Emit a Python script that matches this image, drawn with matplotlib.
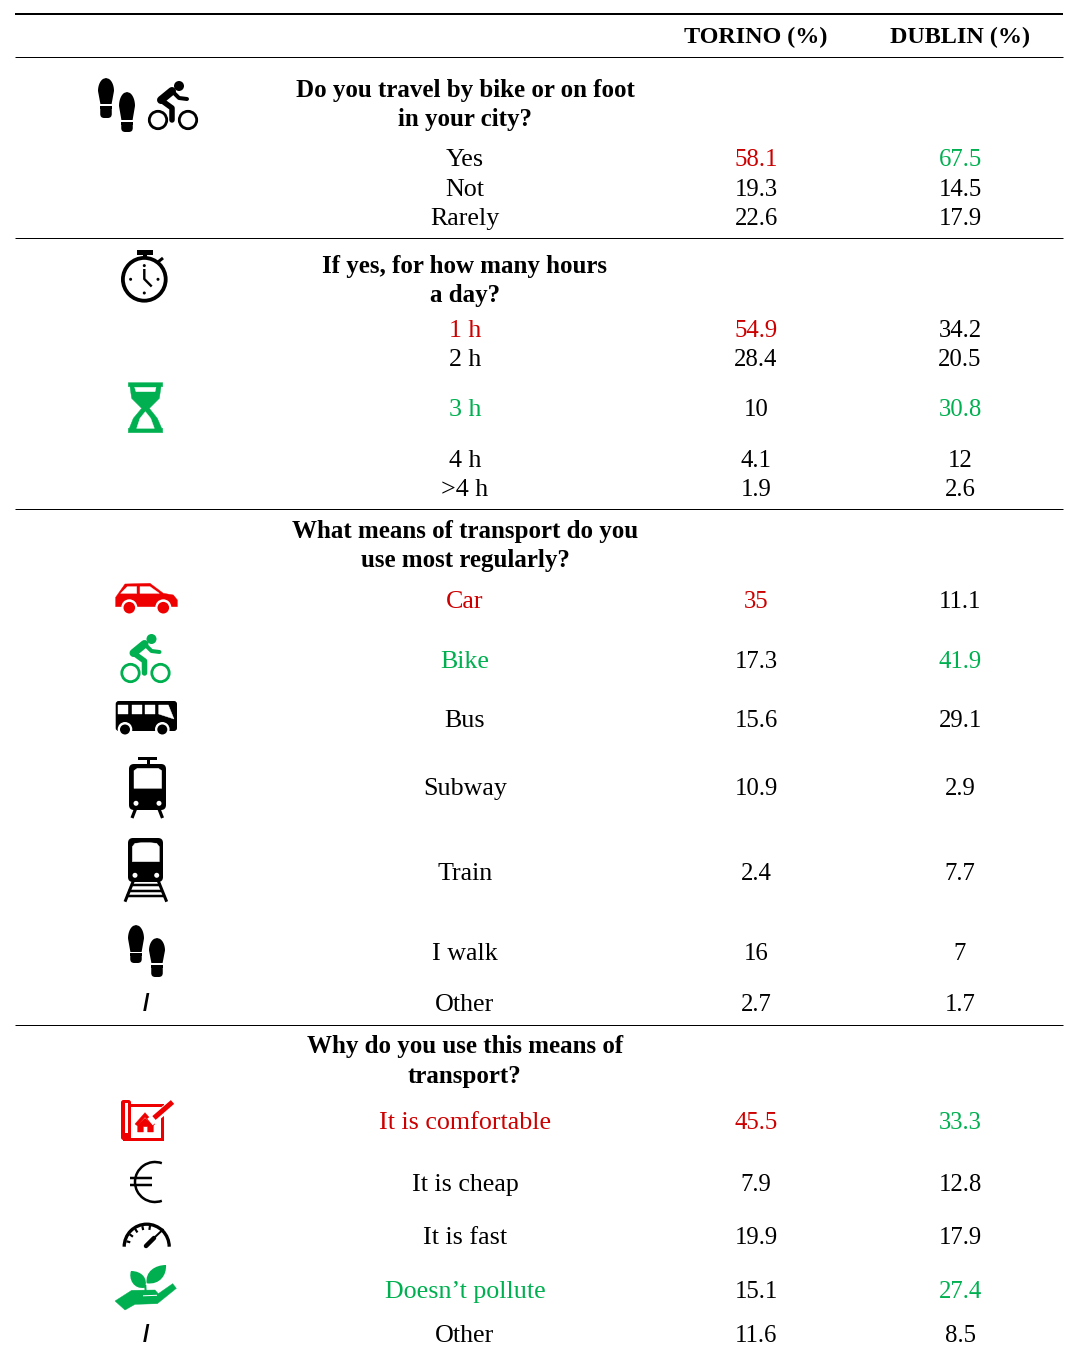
import matplotlib
matplotlib.use('Agg')
import matplotlib.pyplot as plt
import numpy as np
from matplotlib.patches import Polygon, Circle, Arc, FancyBboxPatch, PathPatch, Rectangle
from matplotlib.path import Path

plt.rcParams['font.family'] = ['Liberation Serif', 'DejaVu Serif']

RED = '#cc0000'
IRED = '#ee0000'
GREEN = '#00b050'
BLACK = '#000000'

# table content
headers = ['TORINO (%)', 'DUBLIN (%)']
questions = [['Do you travel by bike or on foot', 'in your city?'],
             ['If yes, for how many hours', 'a day?'],
             ['What means of transport do you', 'use most regularly?'],
             ['Why do you use this means of', 'transport?']]
labels = ['Yes', 'Not', 'Rarely',
          '1 h', '2 h', '3 h', '4 h', '>4 h',
          'Car', 'Bike', 'Bus', 'Subway', 'Train', 'I walk', 'Other',
          'It is comfortable', 'It is cheap', 'It is fast', 'Doesn\u2019t pollute', 'Other']
torino = [58.1, 19.3, 22.6,
          54.9, 28.4, 10, 4.1, 1.9,
          35, 17.3, 15.6, 10.9, 2.4, 16, 2.7,
          45.5, 7.9, 19.9, 15.1, 11.6]
dublin = [67.5, 14.5, 17.9,
          34.2, 20.5, 30.8, 12, 2.6,
          11.1, 41.9, 29.1, 2.9, 7.7, 7, 1.7,
          33.3, 12.8, 17.9, 27.4, 8.5]
label_col = 'kkk' + 'rkgkk' + 'rgkkkkk' + 'rkkgk'
torino_col = 'rkk' + 'rkkkk' + 'rkkkkkk' + 'rkkkk'
dublin_col = 'gkk' + 'kkgkk' + 'kgkkkkk' + 'gkkgk'

# layout, in pixels of the page
row_y = [158, 188, 217, 329, 358, 408, 459, 488, 600, 660, 719, 787, 872, 952, 1003,
         1121, 1183, 1236, 1290, 1334]
question_y = [(89, 118), (265, 294), (530, 559), (1045, 1075)]
rules = [57, 238, 509, 1025]
x_label, x_tor, x_dub, x_icon = 465, 756, 960, 146
colmap = {'k': BLACK, 'r': RED, 'g': GREEN}

fig = plt.figure(figsize=(10.65, 13.45), dpi=100)
ax = fig.add_axes([0, 0, 1, 1])
ax.set_xlim(0, 1065)
ax.set_ylim(1345, 0)
ax.axis('off')


def put(x, y, s, c=BLACK, fs=18.7, **kw):
    ax.text(x, y + 8, s, color=c, fontsize=fs, ha='center', va='baseline', **kw)


def px(w):
    return w * 0.72


def line(xs, ys, c, w, cap='butt'):
    ax.plot(xs, ys, color=c, lw=px(w), solid_capstyle=cap, solid_joinstyle='round')


def poly(pts, c, x0=0, y0=0):
    pts = np.array(pts, dtype=float) / 3 + [x0, y0]
    ax.add_patch(Polygon(pts, closed=True, fc=c, ec=c, lw=0.3))


def dot(x, y, r, c):
    ax.add_patch(Circle((x, y), r, fc=c, ec='none'))


def rbox(x0, y0, x1, y1, r, c):
    ax.add_patch(FancyBboxPatch((x0 + r, y0 + r), x1 - x0 - 2 * r, y1 - y0 - 2 * r,
                                boxstyle='round,pad=%f' % r, fc=c, ec='none'))


def shoe(x0, x1, y0, y1, hy0, hy1, c=BLACK):
    # sole: round at the toe, narrowing down to the arch
    cx = (x0 + x1) / 2
    hw = (x1 - x0) / 2
    t = np.linspace(0, 1, 30)
    half = np.where(t < 0.5, hw * np.sqrt(np.clip(1 - (1 - 2 * t) ** 2, 0, 1)), hw * (1 - 0.3 * (t - 0.5) / 0.5))
    ys = y0 + t * (y1 - y0)
    pts = np.r_[np.c_[cx - half, ys], np.c_[cx + half, ys][::-1]]
    ax.add_patch(Polygon(pts, closed=True, fc=c, ec='none'))
    w = hw * 0.72
    rbox(cx - w, hy0, cx + w, hy1, 4, c)
    ax.add_patch(Rectangle((cx - w, hy0), 2 * w, 3, fc=c, ec='none'))


def bike(cx, cy, c):
    dot(cx + 6, cy - 21, 5, c)
    for dx in (-15, 15):
        ax.add_patch(Circle((cx + dx, cy + 13), 8.7, fc='none', ec=c, lw=px(2.8)))
    line([cx - 12, cx - 1], [cy - 7, cy - 16], c, 8, 'round')
    line([cx, cx + 6, cx + 14], [cy - 15, cy - 9, cy - 8], c, 4, 'round')
    line([cx - 12, cx - 1, cx - 1], [cy - 7, cy + 1, cy + 13], c, 5.5, 'round')


# rules
ax.plot([15, 1063], [14, 14], color='k', lw=px(2), solid_capstyle='butt')
for y in rules:
    ax.plot([15, 1063], [y, y], color='k', lw=px(1), solid_capstyle='butt')

# text
put(x_tor, 35, headers[0], fs=17.4, fontweight='bold')
put(x_dub, 35, headers[1], fs=17.4, fontweight='bold')
for q, ys in zip(questions, question_y):
    for s, y in zip(q, ys):
        put(x_label, y, s, fs=18.0, fontweight='bold')
for i, y in enumerate(row_y):
    put(x_label, y, labels[i], colmap[label_col[i]])
    put(x_tor, y, str(torino[i]), colmap[torino_col[i]], fs=17.8)
    put(x_dub, y, str(dublin[i]), colmap[dublin_col[i]], fs=17.8)
for y in (row_y[14], row_y[19]):
    ax.text(x_icon, y + 8, '/', fontsize=17, ha='center', va='baseline', color='k',
            family='Liberation Sans', fontweight='bold')

# foot + bike, first question
shoe(98, 114, 78, 104, 106, 118)
shoe(119, 135, 92, 120, 122, 132)
bike(173, 107, BLACK)

# stopwatch
ax.add_patch(Circle((144.3, 279.3), 21.4, fc='none', ec='k', lw=px(3.8)))
ax.add_patch(Rectangle((136.5, 250), 16, 4.5, fc='k', ec='none'))
ax.add_patch(Rectangle((142.5, 254), 4, 5, fc='k', ec='none'))
line([158, 163], [262, 258], 'k', 3)
for a in np.arange(4) * np.pi / 2:
    dot(144.3 + 13.7 * np.cos(a), 279.3 + 13.7 * np.sin(a), 1.5, 'k')
line([144.3, 144.3, 151.7], [269, 279, 286.5], 'k', 2.4)

# hourglass
poly([(85, 428), (188, 428), (188, 440), (183, 440), (178, 475), (148, 505), (172, 535), (185, 565),
      (188, 565), (188, 578), (85, 578), (85, 565), (88, 565), (100, 535), (125, 505), (95, 475), (90, 440), (85, 440)],
     GREEN, 100, 240)
poly([(104, 442), (168, 442), (165, 455), (108, 455)], 'white', 100, 240)
poly([(136, 515), (152, 535), (163, 565), (110, 565), (120, 535)], 'white', 100, 240)

# car
poly([(47, 110), (47, 82), (75, 42), (150, 40), (190, 70), (220, 75), (232, 90), (232, 110)], IRED, 100, 570)
poly([(62, 70), (82, 50), (110, 50), (110, 70)], 'white', 100, 570)
poly([(120, 50), (150, 50), (178, 70), (120, 70)], 'white', 100, 570)
for x in (129.3, 163.3):
    dot(x, 607.3, 8, 'white')
    dot(x, 607.7, 5.8, IRED)

# bike, green
bike(145.5, 660, GREEN)

# bus
rbox(115.7, 701, 177, 731, 3, 'k')
for a, b in ((55, 85), (95, 125), (135, 165)):
    poly([(a, 405), (b, 405), (b, 432), (a, 432)], 'white', 100, 570)
poly([(176, 405), (205, 405), (222, 447), (185, 435), (176, 432)], 'white', 100, 570)
for x in (125, 162.3):
    dot(x, 729.3, 7.3, 'white')
    dot(x, 729.5, 5, 'k')

# subway
ax.add_patch(Rectangle((138, 757), 19, 3, fc='k', ec='none'))
ax.add_patch(Rectangle((146.5, 759), 3, 6, fc='k', ec='none'))
rbox(129, 764, 166, 810, 5, 'k')
poly([(102, 62), (112, 55), (175, 55), (185, 62), (185, 115), (102, 115)], 'white', 100, 750)
dot(136, 803.3, 2.5, 'white')
dot(159, 803.3, 2.5, 'white')
line([135.5, 132], [809, 818], 'k', 3.2)
line([159, 162.5], [809, 818], 'k', 3.2)

# train
rbox(128, 838, 163, 882, 5, 'k')
poly([(97, 290), (105, 280), (125, 278), (150, 278), (170, 280), (178, 290), (178, 335), (97, 335)], 'white', 100, 750)
dot(135, 875.3, 2.5, 'white')
dot(156.7, 875.3, 2.5, 'white')
line([133.3, 125], [881, 901.7], 'k', 3)
line([158.3, 166.7], [881, 901.7], 'k', 3)
for y, d in ((885, 1.5), (890.7, 3.8), (895.7, 5.8)):
    line([132 - d, 159.5 + d], [y, y], 'k', 2.5)

# feet, lower
shoe(128, 144, 925, 952, 953, 963)
shoe(149, 165, 938, 963, 965, 977)

# plan with house and pencil
ax.add_patch(Rectangle((124, 1105), 38, 33.5, fc='none', ec=IRED, lw=px(3)))
rbox(121, 1100, 131, 1140, 2.5, IRED)
ax.add_patch(Rectangle((124.5, 1103), 3.3, 30, fc='white', ec='none'))
poly([(105, 102), (135, 68), (165, 102), (158, 107), (135, 82), (112, 107)], IRED, 100, 1090)
poly([(113, 105), (135, 85), (160, 105), (160, 126), (143, 126), (143, 110), (130, 110), (130, 126), (113, 126)], IRED, 100, 1090)
line([150, 173], [1122, 1103], 'white', 8.5)
line([154, 172.5], [1118, 1102], IRED, 5)

# euro sign
ax.add_patch(Arc((155, 1182), 40, 40, theta1=70, theta2=290, ec='k', lw=px(2.5)))
line([129.5, 152], [1177.5, 1177.5], 'k', 2.5)
line([129.5, 152], [1184.5, 1184.5], 'k', 2.5)

# gauge
ax.add_patch(Arc((146.7, 1246.7), 45, 45, theta1=180, theta2=360, ec='k', lw=px(3.3)))
for a in np.deg2rad(np.arange(195, 300, 21)):
    line([146.7 + 21 * np.cos(a), 146.7 + 17 * np.cos(a)],
         [1246.7 + 21 * np.sin(a), 1246.7 + 17 * np.sin(a)], 'k', 2.2)
line([146, 154], [1246, 1238], 'k', 4.5, 'round')
line([154, 163.5], [1238, 1229], 'k', 2)

# plant on a hand
poly([(45, 258), (95, 226), (165, 225), (172, 233), (175, 236), (218, 206), (229, 220),
      (172, 266), (105, 268), (75, 285)], GREEN, 100, 1215)
line([143, 157], [1295.8, 1295.3], 'white', 1)
for verts in ([(135, 218), (100, 225), (85, 190), (93, 168), (125, 168), (145, 190), (135, 218)],
              [(140, 205), (135, 170), (165, 150), (198, 150), (200, 180), (180, 210), (140, 205)]):
    v = np.array(verts, dtype=float) / 3 + [100, 1215]
    ax.add_patch(PathPatch(Path(v, [Path.MOVETO] + [Path.CURVE4] * 6), fc=GREEN, ec='none'))
line([145.3, 145.6], [1285, 1291], GREEN, 2)

fig.savefig('out.png', dpi=100)
